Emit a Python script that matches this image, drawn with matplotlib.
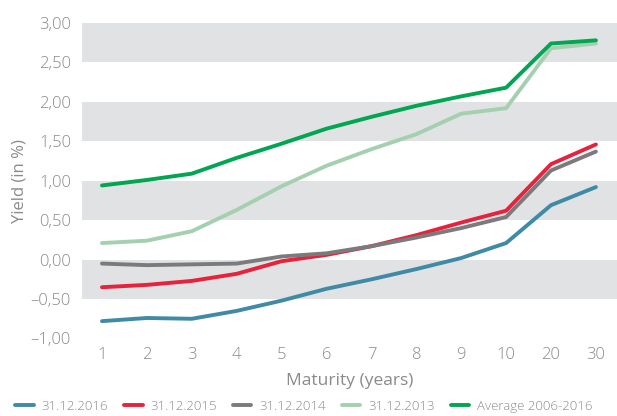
import numpy as np
import matplotlib
matplotlib.use("Agg")
import matplotlib.pyplot as plt
from matplotlib.ticker import FuncFormatter

plt.rcParams['font.family'] = ['Open Sans', 'DejaVu Sans']
plt.rcParams['font.weight'] = 'light'

maturities = ['1', '2', '3', '4', '5', '6', '7', '8', '9', '10', '20', '30']
y2016 = [-0.78, -0.74, -0.75, -0.65, -0.52, -0.37, -0.25, -0.12, 0.02, 0.21, 0.69, 0.92]
y2015 = [-0.35, -0.32, -0.27, -0.18, -0.02, 0.06, 0.17, 0.31, 0.47, 0.62, 1.21, 1.46]
y2014 = [-0.05, -0.07, -0.06, -0.05, 0.04, 0.08, 0.17, 0.28, 0.40, 0.54, 1.13, 1.37]
y2013 = [0.21, 0.24, 0.36, 0.63, 0.93, 1.19, 1.40, 1.59, 1.85, 1.92, 2.68, 2.74]
avg = [0.94, 1.01, 1.09, 1.29, 1.47, 1.66, 1.81, 1.95, 2.07, 2.18, 2.74, 2.78]

series = [
    ('31.12.2016', y2016, '#3f8ba6'),
    ('31.12.2015', y2015, '#e8213c'),
    ('31.12.2014', y2014, '#7b7b7d'),
    ('31.12.2013', y2013, '#a5d0b0'),
    ('Average 2006-2016', avg, '#00a651'),
]

txt = '#8a8a8a'
fig = plt.figure(figsize=(6.17, 4.16), dpi=100)
ax = fig.add_axes([82 / 617, (416 - 338.5) / 416, 1 - 82 / 617, (338.5 - 23) / 416])

x = np.arange(len(maturities))
ax.set_xlim(-0.445, 11.47)
ax.set_ylim(-1, 3)

# shaded bands
for lo in [-0.5, 0.5, 1.5, 2.5]:
    ax.axhspan(lo, lo + 0.5, color='#e1e2e4', lw=0, zorder=0)

for label, vals, col in series:
    ax.plot(x, vals, color=col, lw=2.8, label=label, solid_capstyle='round',
            solid_joinstyle='round', zorder=3)

def fmt(v, pos):
    s = f'{abs(v):.2f}'.replace('.', ',')
    return ('\u2013' + s) if v < 0 else s

ax.set_yticks(np.arange(-1, 3.01, 0.5))
ax.yaxis.set_major_formatter(FuncFormatter(fmt))
ax.set_xticks(x)
ax.set_xticklabels(maturities)
ax.tick_params(length=0, labelsize=12, colors=txt, pad=8)
ax.tick_params(axis='x', pad=6)
for s in ax.spines.values():
    s.set_visible(False)

ax.set_xlabel('Maturity (years)', color=txt, fontsize=12.5)
ax.set_ylabel('Yield (in %)', color=txt, fontsize=12)
ax.yaxis.set_label_coords(-54 / 535, 0.5)
ax.xaxis.set_label_coords(0.5, -0.11)

fig.legend(loc='lower left', bbox_to_anchor=(0.012, -0.012), ncol=5, frameon=False,
           fontsize=9.5, labelcolor=txt, handlelength=1.4, handletextpad=0.6,
           columnspacing=1.2, borderaxespad=0.2)

fig.savefig('out.png', dpi=100)
